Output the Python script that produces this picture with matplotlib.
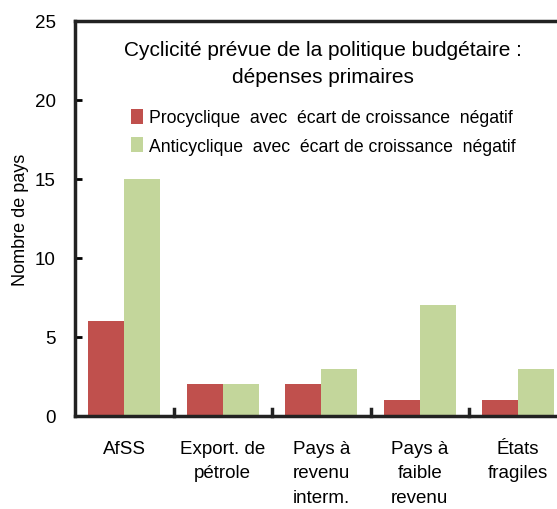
import matplotlib
matplotlib.use("Agg")
import matplotlib.pyplot as plt
import numpy as np

plt.rcParams['font.family'] = ['Liberation Sans', 'DejaVu Sans']

categories = ["AfSS", "Export. de\npétrole", "Pays à\nrevenu\ninterm.", "Pays à\nfaible\nrevenu", "États\nfragiles"]
procyclique = [6, 2, 2, 1, 1]
anticyclique = [15, 2, 3, 7, 3]
series_names = ["Procyclique  avec  écart de croissance  négatif",
                "Anticyclique  avec  écart de croissance  négatif"]
title = "Cyclicité prévue de la politique budgétaire :\ndépenses primaires"
yticks = [0, 5, 10, 15, 20, 25]

fig = plt.figure(figsize=(5.57, 5.10), dpi=100)
ax = fig.add_axes([75/557, 93/510, 1 - 75/557, (417-22)/510])
x = np.arange(len(categories))
w = 0.365
ax.bar(x - w/2, procyclique, w, color="#C0504D", label=series_names[0])
ax.bar(x + w/2, anticyclique, w, color="#C3D69B", label=series_names[1])

ax.set_xlim(-0.5, -0.5 + 5 * (557-75) / (5*98.5))
ax.set_ylim(0, 25)
ax.set_yticks(yticks)
ax.tick_params(axis='y', direction='in', length=5, width=2, labelsize=13.5, pad=14)
ax.set_xticks(x)
ax.set_xticklabels(categories, fontsize=13.5, linespacing=1.6)
ax.tick_params(axis='x', length=0, pad=17)
for b in np.arange(0.5, 4.5, 1.0):
    ax.plot([b, b], [0, 0.45], color='#222222', lw=2.5, clip_on=False)
for s in ['left', 'bottom', 'top']:
    ax.spines[s].set_linewidth(2.5)
    ax.spines[s].set_color('#222222')
ax.spines['right'].set_visible(False)
ax.set_ylabel("Nombre de pays", fontsize=13)
ax.yaxis.set_label_coords((29 - 75) / 482, 0.5)

fig.text(323/557, 1 - 64/510, title, ha='center', va='center', fontsize=15, linespacing=1.5)
ax.legend(loc='upper left', bbox_to_anchor=((124-75)/482, (417-103)/395), frameon=False,
          fontsize=12.7, handlelength=0.7, handleheight=0.9, handletextpad=0.3,
          labelspacing=0.62, borderaxespad=0)
fig.savefig("out.png", dpi=100)
